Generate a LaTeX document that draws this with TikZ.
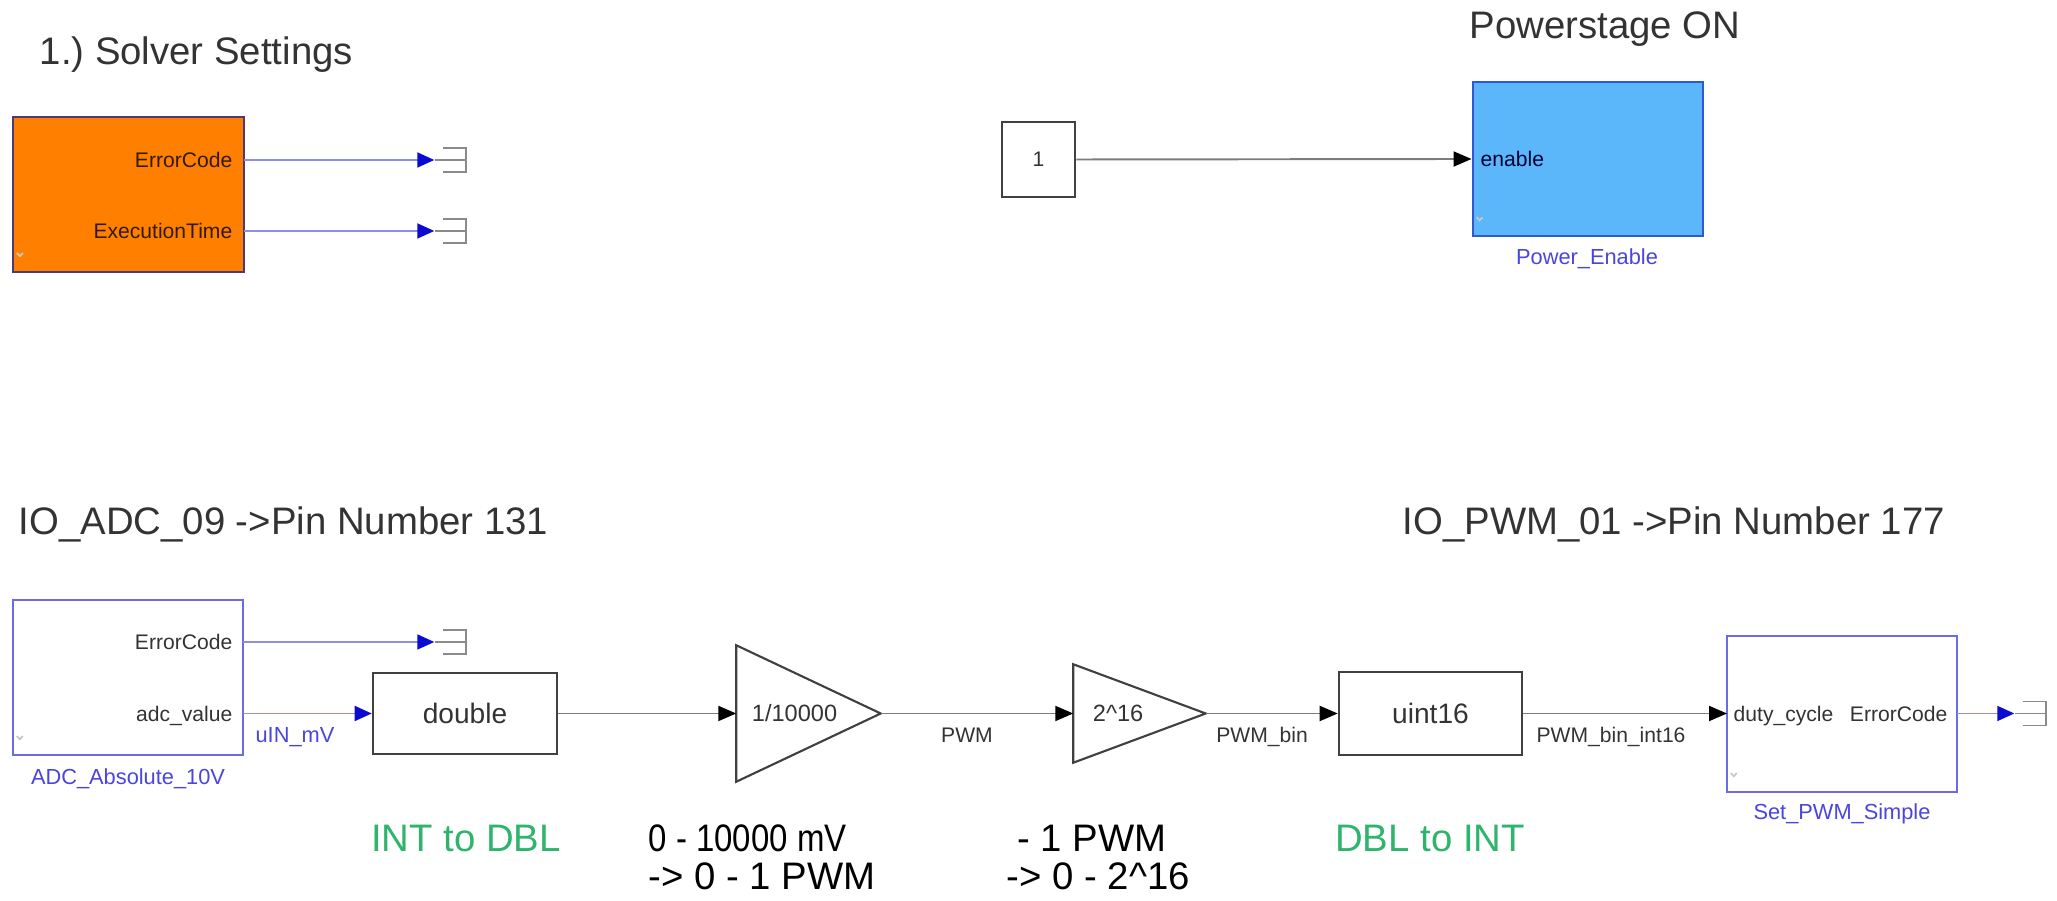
\documentclass[tikz,border=0pt]{standalone}
\usepackage{fontspec}
\setmainfont{Liberation Sans}
\newfontfamily\narrowfont[FakeStretch=0.86]{Liberation Sans}
\usetikzlibrary{arrows.meta}
\frenchspacing
\definecolor{orangeblk}{HTML}{FF8000}
\definecolor{orangeedge}{HTML}{4E3A72}
\definecolor{powerblue}{HTML}{5BB6FA}
\definecolor{poweredge}{HTML}{2F58D6}
\definecolor{subedge}{HTML}{6B6BE2}
\definecolor{namecol}{HTML}{4B45E0}
\definecolor{sigblue}{HTML}{8E8EEA}
\definecolor{tipblue}{HTML}{0A0AD2}
\definecolor{siggray}{HTML}{7C7C7C}
\definecolor{termgray}{HTML}{8A8A8A}
\definecolor{notegreen}{HTML}{2EB46C}
\definecolor{textgray}{HTML}{333333}

\begin{document}
\begin{tikzpicture}[x=0.01cm,y=-0.01cm,
  title/.style={font=\fontsize{10.9}{10.8}\selectfont,text=textgray,inner sep=0pt},
  note/.style={font=\fontsize{10.9}{10.8}\selectfont,inner sep=0pt,align=left},
  blk/.style={draw=black!75,line width=0.7pt,fill=white,inner sep=0pt,font=\fontsize{8}{9}\selectfont,text=textgray},
  subsys/.style={draw=subedge,line width=0.7pt,fill=white,inner sep=0pt},
  port/.style={font=\fontsize{6}{7}\selectfont,inner sep=0pt,text height=4.3pt,text depth=0pt,text=textgray},
  blkname/.style={font=\fontsize{6.2}{7}\selectfont,inner sep=0pt,text=namecol,text height=4.45pt,text depth=0pt},
  gaintxt/.style={font=\fontsize{6.7}{8}\selectfont,inner sep=0pt,text=textgray,text height=4.8pt,text depth=0pt},
  gainbox/.style={inner sep=0pt},
  sig/.style={draw=siggray,line width=0.55pt,-{Triangle[length=0.18cm,width=0.15cm,color=black]}},
  bsig/.style={draw=sigblue,line width=0.5pt,-{Triangle[length=0.17cm,width=0.15cm,color=tipblue]}},
  termbox/.style={minimum width=0.32cm,minimum height=0.26cm,inner sep=0pt,
    path picture={
      \draw[termgray,line width=0.5pt]
        ([xshift=0.08cm,yshift=-0.3pt]path picture bounding box.north west) --
        ([xshift=-0.3pt,yshift=-0.3pt]path picture bounding box.north east) --
        ([xshift=-0.3pt,yshift=0.3pt]path picture bounding box.south east) --
        ([xshift=0.08cm,yshift=0.3pt]path picture bounding box.south west);
      \draw[termgray,line width=0.5pt] (path picture bounding box.west) -- (path picture bounding box.east);}},
  icon/.style={draw=black!22,line width=0.5pt,-{Straight Barb[length=0.03cm,width=0.06cm]}}
]
\fill[white] (0,0) rectangle (2057,901);
\useasboundingbox (0,0) rectangle (2057,901);

\node[title,anchor=base west] (tSolver) at (39,65) {1.) Solver Settings};
\node[title,anchor=base west] (tPower) at (1469,39) {Powerstage ON};
\node[title,anchor=base west] (tAdc) at (18,535) {IO\_ADC\_09 ->Pin Number 131};
\node[title,anchor=base west] (tPwm) at (1402,535) {IO\_PWM\_01 ->Pin Number 177};

\node[draw=orangeedge,line width=0.6pt,fill=orangeblk,minimum width=2.31cm,minimum height=1.55cm] (solver) at (128.5,194.5) {};
\coordinate (solErr) at (244,160);
\coordinate (solTime) at (244,231);
\node[port,anchor=east,text=black!80!orange] (solErrTxt) at (233,160) {ErrorCode};
\node[port,anchor=east,text=black!80!orange] (solTimeTxt) at (233,231) {ExecutionTime};
\node[termbox] (termErr) at (451,160) {};
\node[termbox] (termTime) at (451,231) {};
\draw[bsig] (solErr) -- (termErr.west);
\draw[bsig] (solTime) -- (termTime.west);

\node[blk,font=\fontsize{6}{7}\selectfont,minimum width=0.73cm,minimum height=0.75cm] (one) at (1038.5,159.5) {1};
\node[draw=poweredge,line width=0.8pt,fill=powerblue,minimum width=2.30cm,minimum height=1.54cm] (pwr) at (1588,159) {};
\node[port,anchor=west,text=black!80!blue] (pwrEn) at (1480,159) {enable};
\node[blkname] (pwrName) at (1587,257) {Power\_Enable};
\draw[sig] (one.east) -- (pwr.west);

\node[subsys,minimum width=2.30cm,minimum height=1.55cm] (adc) at (128,677.5) {};
\coordinate (adcErr) at (243,642);
\coordinate (adcVal) at (243,713.5);
\node[port,anchor=east] (adcErrTxt) at (233,642) {ErrorCode};
\node[port,anchor=east] (adcValTxt) at (233,713.5) {adc\_value};
\node[blkname] (adcName) at (128,777) {ADC\_Absolute\_10V};
\node[termbox] (termAdc) at (451,642) {};
\draw[bsig] (adcErr) -- (termAdc.west);

\node[blk,minimum width=1.84cm,minimum height=0.81cm] (dbl) at (465,713.5) {double};
\node[blkname] (lblIn) at (295,735) {uIN\_mV};
\draw[bsig] (adcVal) -- (dbl.west);

\node[gainbox,minimum width=1.43cm,minimum height=1.35cm] (g1) at (808.5,713.5) {};
\draw[black!75,line width=0.6pt,fill=white] (g1.north west) -- (g1.east) -- (g1.south west) -- cycle;
\node[gaintxt,anchor=west] (g1Txt) at ([xshift=0.15cm]g1.west) {1/10000};
\draw[sig] (dbl.east) -- (g1.west);

\node[gainbox,minimum width=1.31cm,minimum height=0.97cm] (g2) at (1139.5,713.5) {};
\draw[black!75,line width=0.6pt,fill=white] (g2.north west) -- (g2.east) -- (g2.south west) -- cycle;
\node[gaintxt,anchor=west] (g2Txt) at ([xshift=0.19cm]g2.west) {2\textasciicircum 16};
\node[port] (lblPwm) at (967,735) {PWM};
\draw[sig] (g1.east) -- (g2.west);

\node[blk,minimum width=1.83cm,minimum height=0.83cm] (u16) at (1430.5,713.5) {uint16};
\node[port] (lblBin) at (1262,735) {PWM\_bin};
\draw[sig] (g2.east) -- (u16.west);

\node[subsys,minimum width=2.30cm,minimum height=1.56cm] (setpwm) at (1842,714) {};
\coordinate (setIn) at (1727,713.5);
\coordinate (setErr) at (1957,713.5);
\node[port,anchor=west] (setDutyTxt) at (1733,713.5) {duty\_cycle};
\node[port,anchor=east] (setErrTxt) at (1948,713.5) {ErrorCode};
\node[blkname] (setName) at (1842,812) {Set\_PWM\_Simple};
\node[port] (lblInt) at (1611,735) {PWM\_bin\_int16};
\draw[sig] (u16.east) -- (setIn);
\node[termbox] (termSet) at (2031,713.5) {};
\draw[bsig] (setErr) -- (termSet.west);

\foreach \b in {solver,pwr,adc,setpwm}
  \draw[icon] ([shift={(0.08cm,0.16cm)}]\b.south west) -- ++(0,0.1);

\node[note,text=notegreen,anchor=base] (nInt) at (466,852) {INT to DBL};
\node[note,text=black,anchor=north west] (nScale) at (648,824) {{\narrowfont 0 - 10000 mV}\\-> 0 - 1 PWM};
\node[note,text=black,anchor=north west] (nBin) at (1006,824) {\ - 1 PWM\\-> 0 - 2\textasciicircum 16};
\node[note,text=notegreen,anchor=base] (nDbl) at (1430,852) {DBL to INT};
\end{tikzpicture}
\end{document}
